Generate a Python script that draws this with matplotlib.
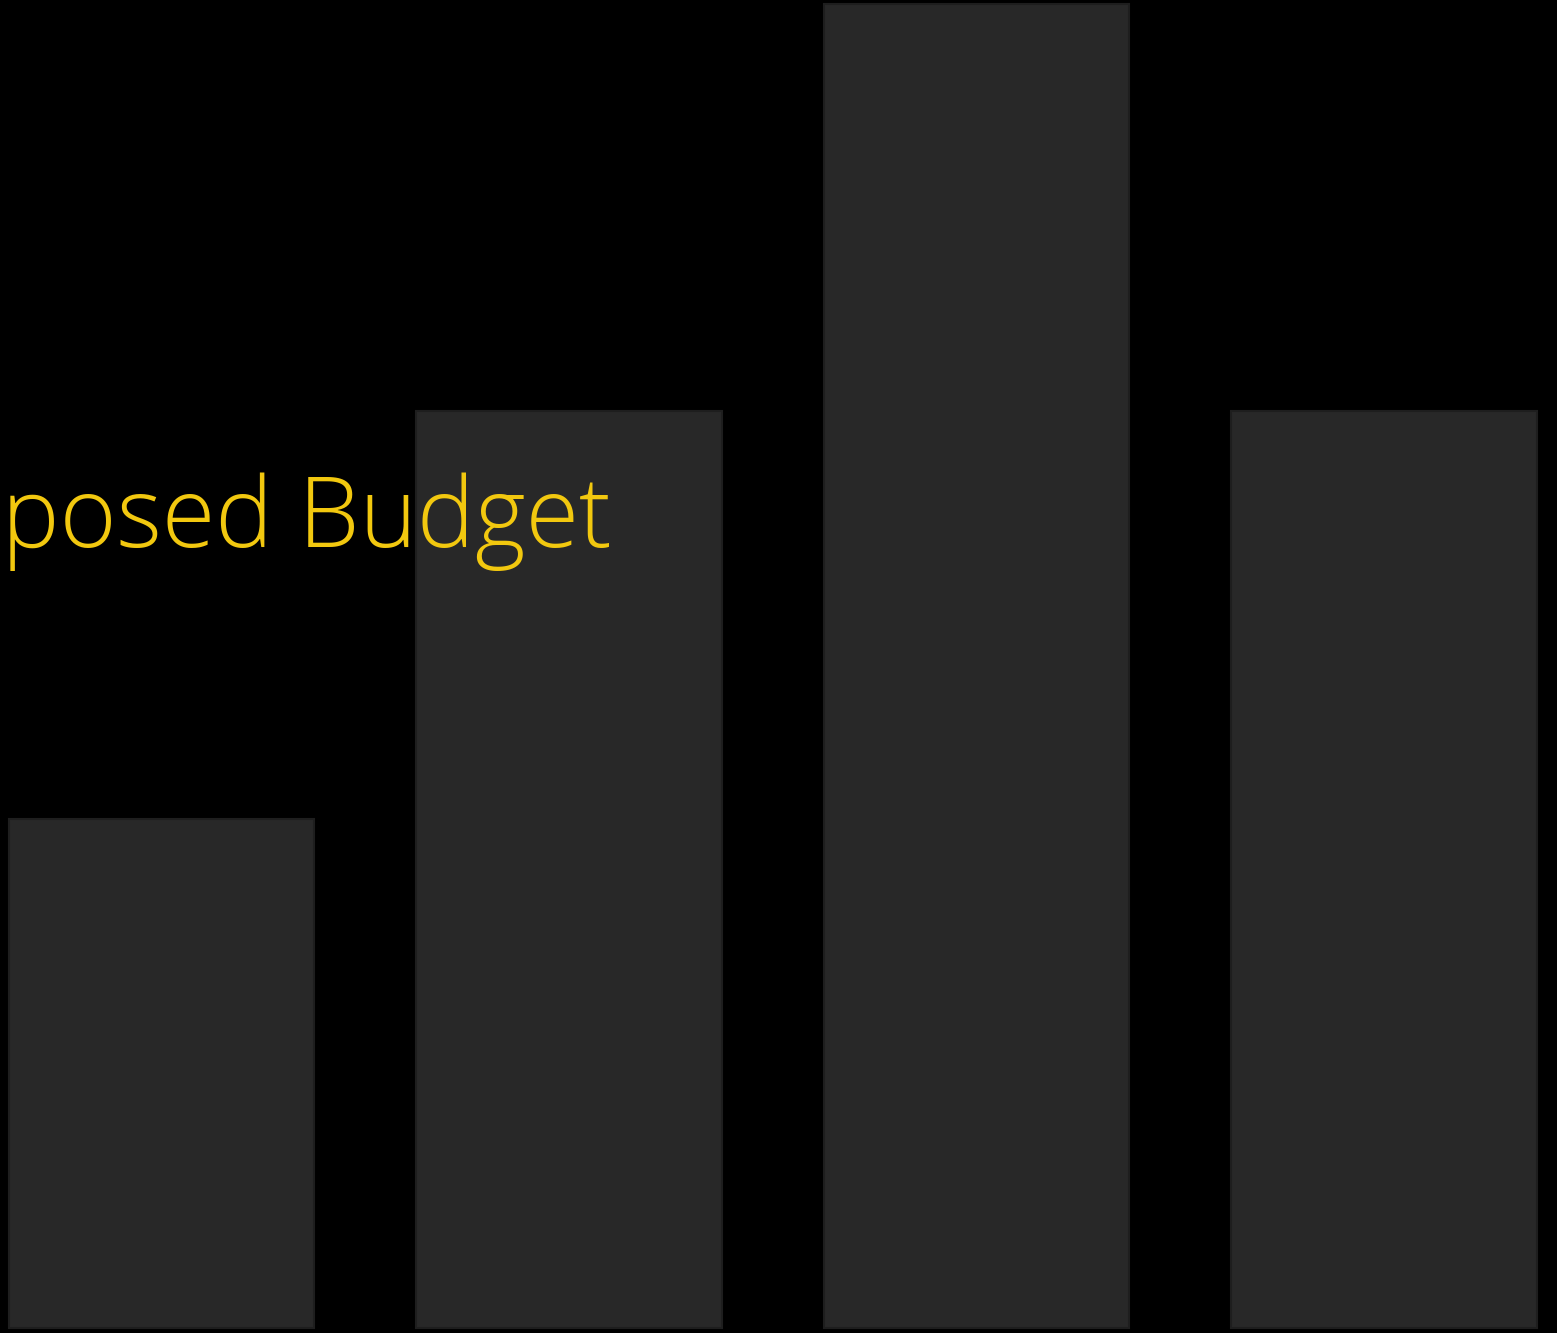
import matplotlib.pyplot as plt
import numpy as np

categories = ['A', 'B', 'C', 'D']
values = [5, 9, 13, 9]
title_text = 'Proposed Budget'

bar_color = '#282828'
edge_color = '#1e1e1e'
text_color = '#F2C80F'

fig = plt.figure(figsize=(15.57, 13.33), dpi=100, facecolor='black')
ax = fig.add_axes([0, 0, 1, 1])
ax.set_facecolor('black')

x = np.arange(len(categories))
ax.bar(x, values, width=0.75, color=bar_color, edgecolor=edge_color, linewidth=1.5)

# axes fill the whole figure, bars run off to the edges
ax.set_xlim(-0.396, 3.4245)
ax.set_ylim(-0.049, 13.039)
ax.axis('off')

fig.text(612 / 1557, 1 - 547 / 1333, title_text, ha='right', va='baseline',
         color=text_color, fontsize=70, family=['Open Sans', 'DejaVu Sans'],
         fontweight='light')

fig.savefig('out.png', dpi=100, facecolor='black')
